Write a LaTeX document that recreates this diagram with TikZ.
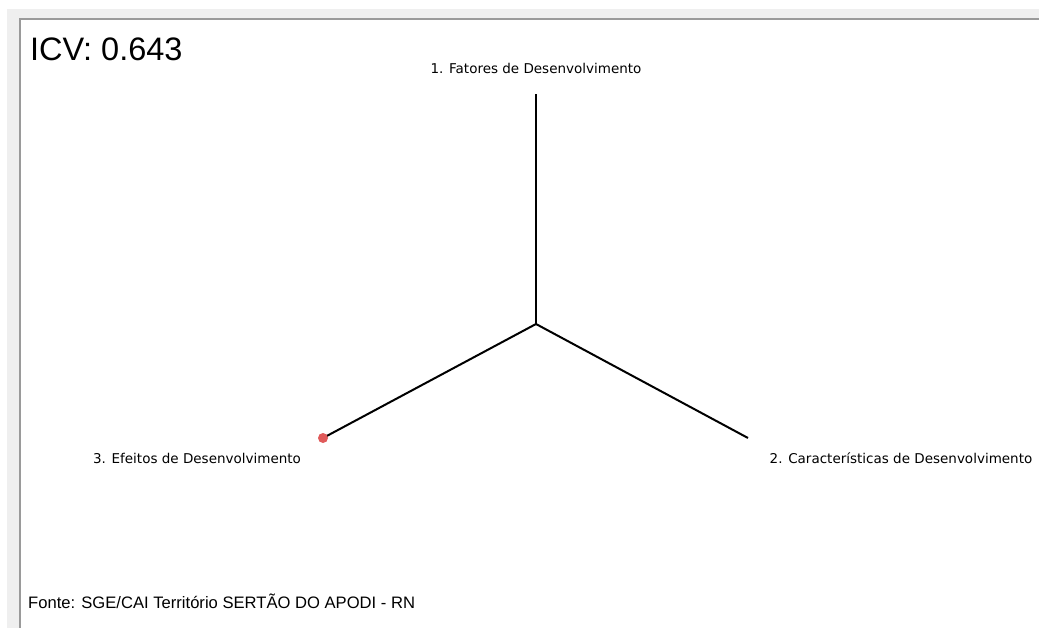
\documentclass[tikz,border=0pt]{standalone}
\usepackage{fontspec}
\setmainfont{Liberation Sans}
\newfontfamily\axisfont{DejaVu Sans}
\usepackage{xcolor}
\usetikzlibrary{positioning}
\definecolor{panelgray}{HTML}{EFEFEF}
\definecolor{framegray}{HTML}{9A9A9A}
\definecolor{dotred}{HTML}{E05A5A}

\begin{document}
\begin{tikzpicture}[x=1pt,y=-1pt,
  lbl/.style={inner sep=0pt,font=\axisfont\fontsize{13.5}{16}\selectfont},
  axis/.style={draw,line width=2pt},
  main/.style={draw,line width=2.8pt}]
\useasboundingbox (0,0) rectangle (1039,628);
\fill[panelgray] (7,9) rectangle (1039,628);
\fill[white] (20,19) rectangle (1039,628);
\draw[framegray,line width=1.5pt] (20,628) -- (20,19) -- (1039,19);
\node[inner sep=0pt,anchor=base west,font=\fontsize{32.5}{38}\selectfont] (icv) at (30,61) {ICV: 0.643};
% eixos
\coordinate (c) at (536,324);
\coordinate (e1) at (536,94);
\coordinate (e2) at (748,438);
\coordinate (e3) at (323,438);
\draw[main] (c) -- (e1);
\draw[axis] (c) -- (e2);
\draw[axis] (c) -- (e3);
\fill[dotred] (e3) circle (5);
\node[lbl,anchor=base] (l1) at (536,74) {1. Fatores de Desenvolvimento};
\node[lbl,anchor=base] (l2) at (901,463) {2. Características de Desenvolvimento};
\node[lbl,anchor=base] (l3) at (197,463) {3. Efeitos de Desenvolvimento};
\node[inner sep=0pt,anchor=base west,font=\fontsize{16.6}{20}\selectfont] (src) at (28,608) {Fonte: SGE/CAI Território SERTÃO DO APODI - RN};
\end{tikzpicture}
\end{document}
